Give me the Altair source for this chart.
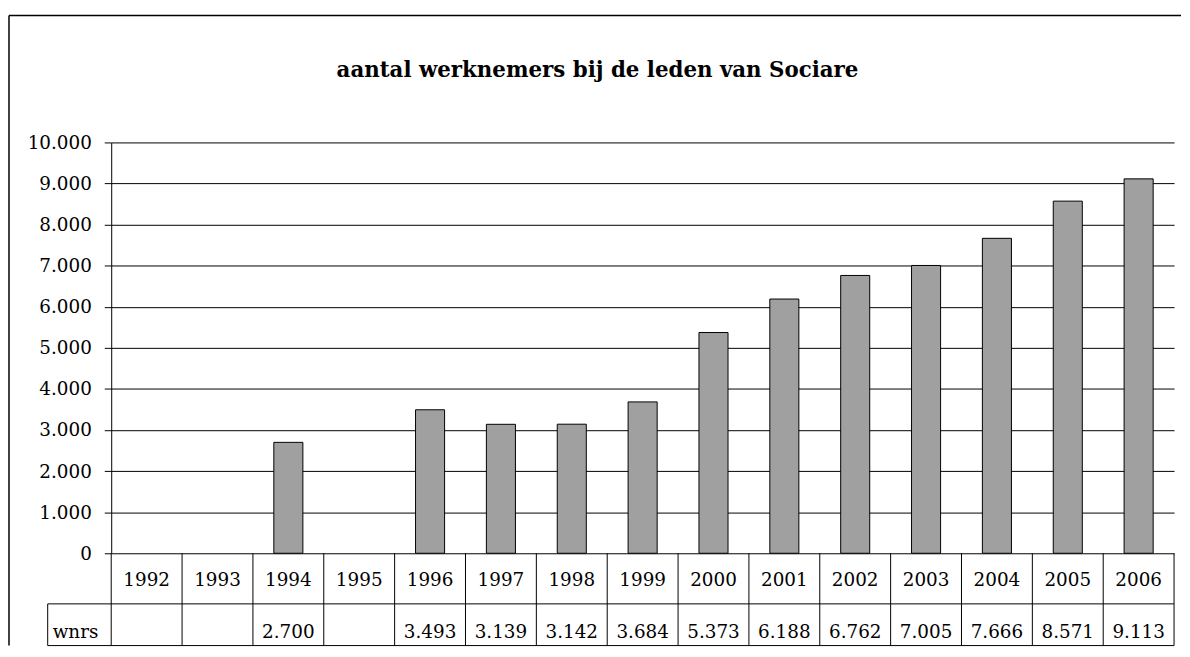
import altair as alt
import pandas as pd

# ---- data -------------------------------------------------------------
years = ["1992", "1993", "1994", "1995", "1996", "1997", "1998", "1999",
         "2000", "2001", "2002", "2003", "2004", "2005", "2006"]
wnrs = [None, None, 2700, None, 3493, 3139, 3142, 3684, 5373, 6188,
        6762, 7005, 7666, 8571, 9113]
y_ticks = [0, 1000, 2000, 3000, 4000, 5000, 6000, 7000, 8000, 9000, 10000]
title_text = "aantal werknemers bij de leden van Sociare"
row_label = "wnrs"

labels = ["" if v is None else f"{v:,}".replace(",", ".") for v in wnrs]
df = pd.DataFrame({"jaar": years, "wnrs": wnrs, "label": labels})
one = pd.DataFrame({"k": [0]})

FONT = "'DejaVu Serif', 'Liberation Serif', serif"
FS = 18.5
W, H = 1071, 414          # plot area
ROW1, ROW2 = 465, 507     # table row bottoms (px below plot top)

xenc = alt.X("jaar:O", axis=None,
             scale=alt.Scale(domain=years, paddingInner=0, paddingOuter=0))

bars = alt.Chart(df).mark_bar(
    width=alt.RelativeBandSize(0.41), fill="#a0a0a0",
    stroke="black", strokeWidth=1
).encode(
    x=xenc,
    y=alt.Y("wnrs:Q", scale=alt.Scale(domain=[0, 10000], nice=False),
            axis=alt.Axis(values=y_ticks, title=None, grid=True,
                          gridColor="black", gridOpacity=1, gridWidth=1,
                          domainColor="black", domainWidth=1,
                          tickColor="black", tickSize=7, tickWidth=1,
                          labelFont=FONT, labelFontSize=FS, labelColor="black",
                          labelPadding=13,
                          labelExpr="replace(format(datum.value, ','), ',', '.')")),
)

xplain = alt.X("jaar:O", axis=None)

year_text = alt.Chart(df).mark_text(
    font=FONT, fontSize=FS, color="black", align="center", baseline="alphabetic"
).encode(x=xplain, y=alt.value(447), text="jaar:N")

value_text = alt.Chart(df).mark_text(
    font=FONT, fontSize=FS, color="black", align="center", baseline="alphabetic"
).encode(x=xplain, y=alt.value(499), text="label:N")

row_text = alt.Chart(one).mark_text(
    font=FONT, fontSize=FS, color="black", align="left", baseline="alphabetic",
    text=row_label
).encode(x=alt.value(-59), y=alt.value(499))

vlines = alt.Chart(df).mark_rule(color="black", strokeWidth=1).encode(
    x=alt.X("jaar:O", axis=None, bandPosition=0),
    y=alt.value(H), y2=alt.value(ROW2))

vline_end = alt.Chart(df.tail(1)).mark_rule(color="black", strokeWidth=1).encode(
    x=alt.X("jaar:O", axis=None, bandPosition=1),
    y=alt.value(H), y2=alt.value(ROW2))

hline1 = alt.Chart(one).mark_rule(color="black", strokeWidth=1).encode(
    x=alt.value(-64), x2=alt.value(W), y=alt.value(ROW1))
hline2 = alt.Chart(one).mark_rule(color="black", strokeWidth=1).encode(
    x=alt.value(-64), x2=alt.value(W), y=alt.value(ROW2))
vline_lbl = alt.Chart(one).mark_rule(color="black", strokeWidth=1).encode(
    x=alt.value(-64), y=alt.value(ROW1), y2=alt.value(ROW2))

frame_left = alt.Chart(one).mark_rule(color="black", strokeWidth=1.5).encode(
    x=alt.value(-103), y=alt.value(-128), y2=alt.value(ROW2))
frame_top = alt.Chart(one).mark_rule(color="black", strokeWidth=1.5).encode(
    x=alt.value(-103), x2=alt.value(1078), y=alt.value(-128))

title = alt.Chart(one).mark_text(
    font=FONT, fontSize=21.5, fontWeight="bold", color="black",
    align="center", baseline="alphabetic", text=title_text
).encode(x=alt.value(490), y=alt.value(-66))

chart = alt.layer(
    bars, year_text, value_text, row_text, vlines, vline_end,
    hline1, hline2, vline_lbl, frame_left, frame_top, title
).properties(
    width=W, height=H,
    padding={"left": 0, "top": 4, "right": 0, "bottom": 0},
    background="white",
).configure_view(stroke="transparent")

chart.save("out.html", embed_options={"renderer": "svg", "actions": False})
